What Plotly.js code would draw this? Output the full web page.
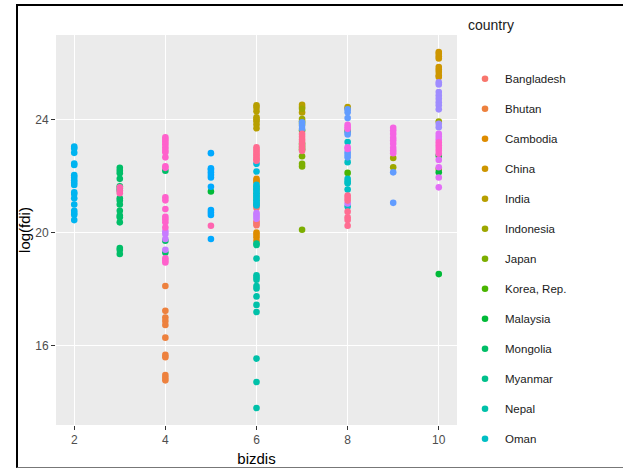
<!DOCTYPE html>
<html>
<head>
<meta charset="utf-8">
<script src="https://cdn.plot.ly/plotly-3.0.1.min.js"></script>
<style>
  html, body { margin: 0; padding: 0; background: #fff; }
  #chart { position: absolute; left: 0; top: 0; width: 623px; height: 469px; }
  #frame { position: absolute; left: 16px; top: 4px; width: 700px; height: 461px;
           border-left: 2px solid #000; border-top: 2px solid #000; border-bottom: 1px solid #777;
           pointer-events: none; }
  #chart .legend .scrollbar { display: none; }
</style>
</head>
<body>
<div id="chart"></div>
<div id="frame"></div>
<script>
// ---- data ----
const countries = ["Bangladesh","Bhutan","Cambodia","China","India","Indonesia","Japan","Korea, Rep.",
  "Malaysia","Mongolia","Myanmar","Nepal","Oman","Pakistan","Philippines","Qatar","Saudi Arabia",
  "Singapore","Sri Lanka","Thailand","Turkey","United Arab Emirates","Uzbekistan","Vietnam"];

const bizdisBangladesh = [6,6,6,6,6];
const logFdiBangladesh = [20.95,20.88,20.40,20.33,20.27];
const bizdisBhutan = [4,4,4,4,4,4,4,4,4,4,4];
const logFdiBhutan = [18.12,17.24,17.00,16.88,16.74,16.29,15.68,15.60,14.97,14.87,14.78];
const bizdisCambodia = [6,6,6,6,6,6,6];
const logFdiCambodia = [21.91,21.85,21.79,20.01,19.93,19.84,19.72];
const bizdisChina = [10,10,10,10,10,10,10,10,10];
const logFdiChina = [26.40,26.34,26.25,26.17,25.87,25.78,25.69,25.57,25.51];
const bizdisIndia = [6,6,6,6,6,6,6,6,7,7,7,8,8];
const logFdiIndia = [24.51,24.43,24.30,24.09,24.02,23.95,23.83,23.70,24.53,24.45,24.26,24.45,24.40];
const bizdisIndonesia = [7,7,7,9,9,10,10];
const logFdiIndonesia = [24.39,24.03,23.95,22.65,22.32,23.94,22.26];
const bizdisJapan = [7,7,7,7,7];
const logFdiJapan = [23.86,22.71,22.44,22.35,20.11];
const bizdisKorea = [7,7,7,7,8,8];
const logFdiKorea = [23.62,23.15,23.05,22.95,23.60,22.12];
const bizdisMalaysia = [5,10,10,10];
const logFdiMalaysia = [21.46,22.73,22.14,18.54];
const bizdisMongolia = [3,3,3,3,3,3,3,3,3,3,3,3,3,3,3,3,3,4,4,4];
const logFdiMongolia = [22.30,22.20,22.11,21.91,21.65,21.57,21.49,21.22,21.14,21.00,20.78,20.61,20.55,20.37,19.46,19.39,19.25,22.20,19.72,19.30];
const bizdisMyanmar = [6,6,6,6,6,6,6,6];
const logFdiMyanmar = [21.64,21.52,21.39,21.27,21.14,21.02,19.62,19.57];
const bizdisNepal = [6,6,6,6,6,6,6,6,6,6,6,6];
const logFdiNepal = [19.09,18.50,18.42,18.34,18.12,18.03,17.75,17.45,17.20,15.55,14.72,13.80];
const bizdisOman = [8,8,8,8,8,8,8];
const logFdiOman = [23.21,22.50,21.91,21.82,21.75,21.53,20.93];
const bizdisPakistan = [6,6,6,6,6,6,6,6,6];
const logFdiPakistan = [22.44,22.17,21.70,21.57,21.45,21.33,21.20,21.08,20.97];
const bizdisPhilippines = [2,2,2,2,2,2,2,2,2,2,2,2,2,2,2,2,2,2];
const logFdiPhilippines = [23.05,22.98,22.83,22.45,22.40,22.04,21.96,21.86,21.77,21.69,21.43,21.37,21.22,21.00,20.78,20.70,20.64,20.45];
const bizdisQatar = [5,5,5,5,5,5,5,5,5,5,5];
const logFdiQatar = [22.82,22.28,22.23,22.14,22.05,21.96,21.63,20.81,20.72,20.63,19.78];
const bizdisSaudiArabia = [7,7,7,8,8,8,8,8,8,8,8,9,9];
const logFdiSaudiArabia = [23.91,23.80,23.68,24.37,24.27,24.06,23.56,23.48,22.85,22.76,22.67,22.14,21.06];
const bizdisSingapore = [10,10,10,10,10,10,10,10,10,10];
const logFdiSingapore = [25.33,25.25,24.98,24.86,24.74,24.62,24.51,24.37,23.86,23.74];
const bizdisSriLanka = [4,4,4,4,6,6,6,6,8];
const logFdiSriLanka = [20.05,19.96,19.78,19.40,20.70,20.64,20.57,20.50,21.04];
const bizdisThailand = [10,10,10,10,10,10,10];
const logFdiThailand = [23.50,23.40,23.30,22.58,22.32,21.96,21.61];
const bizdisTurkey = [8,8,8,8,8,9,9,9,9,9,9,9,9,9];
const logFdiTurkey = [23.82,23.74,23.68,23.03,22.97,23.72,23.62,23.50,23.36,23.27,23.15,23.01,22.91,22.82];
const bizdisUAE = [4,4,4,4,4,4,4,4,4,4,4,4,4,4,4,4,4,4,4,4,10,10,10,10,10];
const logFdiUAE = [23.38,23.30,23.22,23.13,23.03,22.93,22.85,22.67,22.35,22.30,21.26,21.15,20.84,20.57,20.48,20.37,20.19,19.10,19.02,18.95,23.20,23.10,23.00,22.90,22.80];
const bizdisUzbekistan = [3,3,3,5];
const logFdiUzbekistan = [21.61,21.49,21.40,20.25];
const bizdisVietnam = [6,6,6,6,6,6,6,6,7,7,7,7,7,7,7,8,8,8,8,8,8,8];
const logFdiVietnam = [23.03,22.95,22.88,22.80,22.74,22.66,22.60,22.55,23.50,23.40,23.30,23.22,23.12,23.00,22.90,21.32,21.23,21.14,20.75,20.55,20.45,20.25];

const series = [
  [bizdisBangladesh, logFdiBangladesh], [bizdisBhutan, logFdiBhutan], [bizdisCambodia, logFdiCambodia],
  [bizdisChina, logFdiChina], [bizdisIndia, logFdiIndia], [bizdisIndonesia, logFdiIndonesia],
  [bizdisJapan, logFdiJapan], [bizdisKorea, logFdiKorea], [bizdisMalaysia, logFdiMalaysia],
  [bizdisMongolia, logFdiMongolia], [bizdisMyanmar, logFdiMyanmar], [bizdisNepal, logFdiNepal],
  [bizdisOman, logFdiOman], [bizdisPakistan, logFdiPakistan], [bizdisPhilippines, logFdiPhilippines],
  [bizdisQatar, logFdiQatar], [bizdisSaudiArabia, logFdiSaudiArabia], [bizdisSingapore, logFdiSingapore],
  [bizdisSriLanka, logFdiSriLanka], [bizdisThailand, logFdiThailand], [bizdisTurkey, logFdiTurkey],
  [bizdisUAE, logFdiUAE], [bizdisUzbekistan, logFdiUzbekistan], [bizdisVietnam, logFdiVietnam]
];

// ggplot2-style hue palette (HCL, c=100, l=65)
function hclHex(h, c, l) {
  const hr = h * Math.PI / 180;
  const U = c * Math.cos(hr), V = c * Math.sin(hr);
  const Xn = 95.047, Yn = 100, Zn = 108.883;
  const Y = l > 8 ? Yn * Math.pow((l + 16) / 116, 3) : Yn * l / 903.3;
  const den = Xn + 15 * Yn + 3 * Zn;
  const un = 4 * Xn / den, vn = 9 * Yn / den;
  const u = U / (13 * l) + un, v = V / (13 * l) + vn;
  const X = 9 * Y * u / (4 * v);
  const Z = Y * (12 - 3 * u - 20 * v) / (4 * v);
  const x = X / 100, y = Y / 100, z = Z / 100;
  let r = 3.240479 * x - 1.537150 * y - 0.498535 * z;
  let g = -0.969256 * x + 1.875992 * y + 0.041556 * z;
  let b = 0.055648 * x - 0.204043 * y + 1.057311 * z;
  const gam = t => t <= 0.0031308 ? 12.92 * t : 1.055 * Math.pow(t, 1 / 2.4) - 0.055;
  const to = t => { t = Math.max(0, Math.min(1, gam(t))); return Math.round(t * 255).toString(16).padStart(2, '0'); };
  return '#' + to(r) + to(g) + to(b);
}
const n = countries.length;
const palette = countries.map((_, i) => hclHex(15 + i * 360 / n, 100, 65));

const font = "'Liberation Sans', Arial, sans-serif";

const traces = countries.map((name, i) => ({
  type: 'scatter', mode: 'markers', name: name, legendgroup: name,
  x: series[i][0], y: series[i][1],
  marker: { color: palette[i], size: 6.6, line: { width: 0 } },
  hoverinfo: 'x+y+name'
}));

const layout = {
  width: 623, height: 469,
  margin: { l: 56, r: 166, t: 35, b: 44, autoexpand: false },
  paper_bgcolor: 'rgba(0,0,0,0)', plot_bgcolor: '#EBEBEB',
  font: { family: font, color: '#1a1a1a', size: 12 },
  showlegend: true,
  xaxis: {
    range: [1.6, 10.4], tickvals: [2, 4, 6, 8, 10], ticktext: ['2','4','6','8','10'],
    showgrid: true, gridcolor: '#ffffff', gridwidth: 1.2, zeroline: false, showline: false,
    ticks: 'outside', ticklen: 4, tickwidth: 1, tickcolor: '#333333',
    tickfont: { family: font, size: 12, color: '#4D4D4D' },
    title: { text: 'bizdis', font: { family: font, size: 15, color: '#000' }, standoff: 7 }
  },
  yaxis: {
    range: [13.2, 27.0], tickvals: [16, 20, 24], ticktext: ['16','20','24'],
    showgrid: true, gridcolor: '#ffffff', gridwidth: 1.2, zeroline: false, showline: false,
    ticks: 'outside', ticklen: 4, tickwidth: 1, tickcolor: '#333333',
    tickfont: { family: font, size: 12, color: '#4D4D4D' }
  },
  legend: {
    x: 1.02, xanchor: 'left', y: 0.925, yanchor: 'top',
    font: { family: font, size: 11.5, color: '#1a1a1a' },
    bgcolor: 'rgba(0,0,0,0)', borderwidth: 0,
    tracegroupgap: 11, itemsizing: 'trace', maxheight: 392
  },
  annotations: [{
    text: 'country', xref: 'paper', yref: 'paper', x: 1.022, y: 1.0256,
    xanchor: 'left', yanchor: 'middle', showarrow: false,
    font: { family: font, size: 14, color: '#1a1a1a' }
  }, {
    text: 'log(fdi)', xref: 'paper', yref: 'paper', x: -0.08, y: 0.5,
    xanchor: 'center', yanchor: 'middle', textangle: -90, showarrow: false,
    font: { family: font, size: 15, color: '#000' }
  }]
};

Plotly.newPlot('chart', traces, layout, { displayModeBar: false });
</script>
</body>
</html>
